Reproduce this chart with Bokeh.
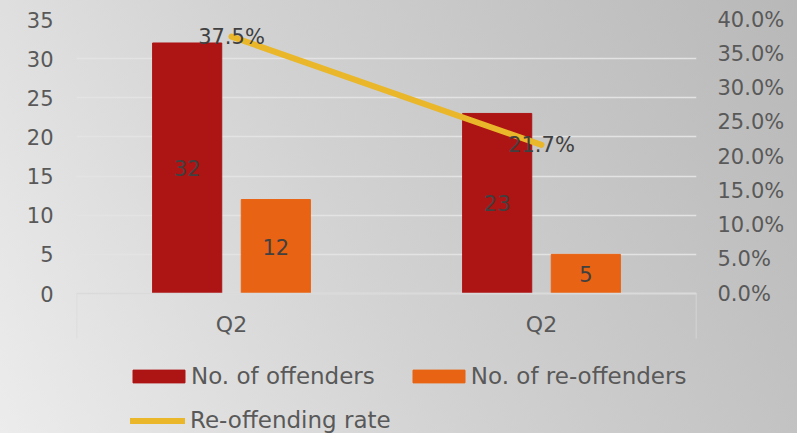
import numpy as np
from bokeh.plotting import figure
from bokeh.models import (ColumnDataSource, LinearAxis, Range1d, FixedTicker,
                          NumeralTickFormatter, LabelSet, Legend, LegendItem)
from bokeh.core.properties import value
from bokeh.embed import file_html
from bokeh.resources import INLINE

# ---- data ----
categories = ["Q2", "Q2"]
offenders = [32, 23]
re_offenders = [12, 5]
reoffend_rate = [0.375, 0.217]
left_ticks = [0, 5, 10, 15, 20, 25, 30, 35]
right_ticks = [0.0, 0.05, 0.10, 0.15, 0.20, 0.25, 0.30, 0.35, 0.40]

# ---- style / layout ----
FONT = "DejaVu Sans"
AXIS_TEXT = "#595959"
DATA_TEXT = "#404040"
RED = "#AD1414"
ORANGE = "#E86313"
GOLD = "#E9B729"
GRID = "#e3e3e3"
OFFSET = 0.143
BAR_W = 0.223
NUM_SIZE = "21px"
LEFT_MAX = 35
RIGHT_MAX = 0.40
PLOT_PX = 274     # pixel height of the value area
BELOW_PX = 140    # pixel room below the zero line (axis labels + legend)

left_min = -LEFT_MAX * BELOW_PX / PLOT_PX
right_min = -RIGHT_MAX * BELOW_PX / PLOT_PX

x = np.arange(len(categories)) + 0.5
src = ColumnDataSource(dict(
    x=x,
    x_off=x - OFFSET,
    x_re=x + OFFSET,
    off=offenders,
    re=re_offenders,
    rate=reoffend_rate,
    off_mid=[v / 2 for v in offenders],
    re_mid=[v / 2 for v in re_offenders],
    off_lbl=[str(v) for v in offenders],
    re_lbl=[str(v) for v in re_offenders],
    rate_lbl=[f"{v * 100:.1f}%" for v in reoffend_rate],
))

p = figure(width=797, height=433, output_backend="svg", toolbar_location=None,
           x_range=Range1d(0, len(categories)),
           y_range=Range1d(left_min, LEFT_MAX),
           min_border_left=76, min_border_right=101, min_border_top=19,
           min_border_bottom=0)
p.extra_y_ranges = {"pct": Range1d(right_min, RIGHT_MAX)}
p.outline_line_color = None
p.background_fill_alpha = 0
p.border_fill_alpha = 0
p.styles = {"background": "linear-gradient(62deg, #ececec 0%, #d2d2d2 45%, #b8b8b8 100%)"}

# x axis, pinned at zero
xa = p.xaxis[0]
xa.fixed_location = 0
xa.ticker = FixedTicker(ticks=list(x), minor_ticks=[0, len(categories)])
xa.major_label_overrides = {float(xi): c for xi, c in zip(x, categories)}
xa.major_tick_out = 0
xa.major_tick_in = 0
xa.minor_tick_in = 0
xa.minor_tick_out = 45
xa.minor_tick_line_color = "#dadada"
xa.minor_tick_line_width = 1.5
xa.axis_line_color = "#dadada"
xa.axis_line_width = 1.5
xa.major_label_standoff = -27
xa.major_label_text_font = FONT
xa.major_label_text_font_size = "22px"
xa.major_label_text_color = AXIS_TEXT

# left axis
ya = p.yaxis[0]
ya.ticker = FixedTicker(ticks=left_ticks)
ya.axis_line_color = None
ya.major_tick_line_color = None
ya.minor_tick_line_color = None
ya.major_label_standoff = 17
ya.major_label_text_font = FONT
ya.major_label_text_font_size = NUM_SIZE
ya.major_label_text_color = AXIS_TEXT

# right axis
ra = LinearAxis(y_range_name="pct", ticker=FixedTicker(ticks=right_ticks),
                formatter=NumeralTickFormatter(format="0.0%"))
ra.axis_line_color = None
ra.major_tick_line_color = None
ra.minor_tick_line_color = None
ra.major_label_standoff = 15
ra.major_label_text_font = FONT
ra.major_label_text_font_size = NUM_SIZE
ra.major_label_text_color = AXIS_TEXT
p.add_layout(ra, "right")

p.xgrid.visible = False
p.ygrid.ticker = FixedTicker(ticks=left_ticks)
p.ygrid.grid_line_color = GRID
p.ygrid.grid_line_width = 1.5

# glyphs
r1 = p.vbar(x="x_off", top="off", width=BAR_W, source=src,
            fill_color=RED, line_color=RED)
r2 = p.vbar(x="x_re", top="re", width=BAR_W, source=src,
            fill_color=ORANGE, line_color=ORANGE)
r3 = p.line(x="x", y="rate", source=src, y_range_name="pct",
            line_color=GOLD, line_width=6, line_cap="round")

for xs, ys, ts, yr in [("x_off", "off_mid", "off_lbl", "default"),
                       ("x_re", "re_mid", "re_lbl", "default"),
                       ("x", "rate", "rate_lbl", "pct")]:
    ls = LabelSet(x=xs, y=ys, text=ts, y_range_name=yr, source=src,
                  text_align="center", text_baseline="middle",
                  text_font=value(FONT), text_font_size=NUM_SIZE,
                  text_color=DATA_TEXT)
    p.add_layout(ls)

common = dict(padding=0, margin=0, border_line_alpha=0, background_fill_alpha=0,
              label_text_font=FONT, label_text_font_size="23px",
              label_text_color=AXIS_TEXT, orientation="horizontal")
leg1 = Legend(items=[LegendItem(label="No. of offenders", renderers=[r1]),
                     LegendItem(label="No. of re-offenders", renderers=[r2])],
              location=(50, 44), glyph_width=65, glyph_height=16,
              label_standoff=0, spacing=31, **common)
leg2 = Legend(items=[LegendItem(label="Re-offending rate", renderers=[r3])],
              location=(54, 0), glyph_width=55, glyph_height=13,
              label_standoff=5, **common)
p.add_layout(leg1, "center")
p.add_layout(leg2, "center")

open("out.html", "w").write(file_html(p, INLINE))
